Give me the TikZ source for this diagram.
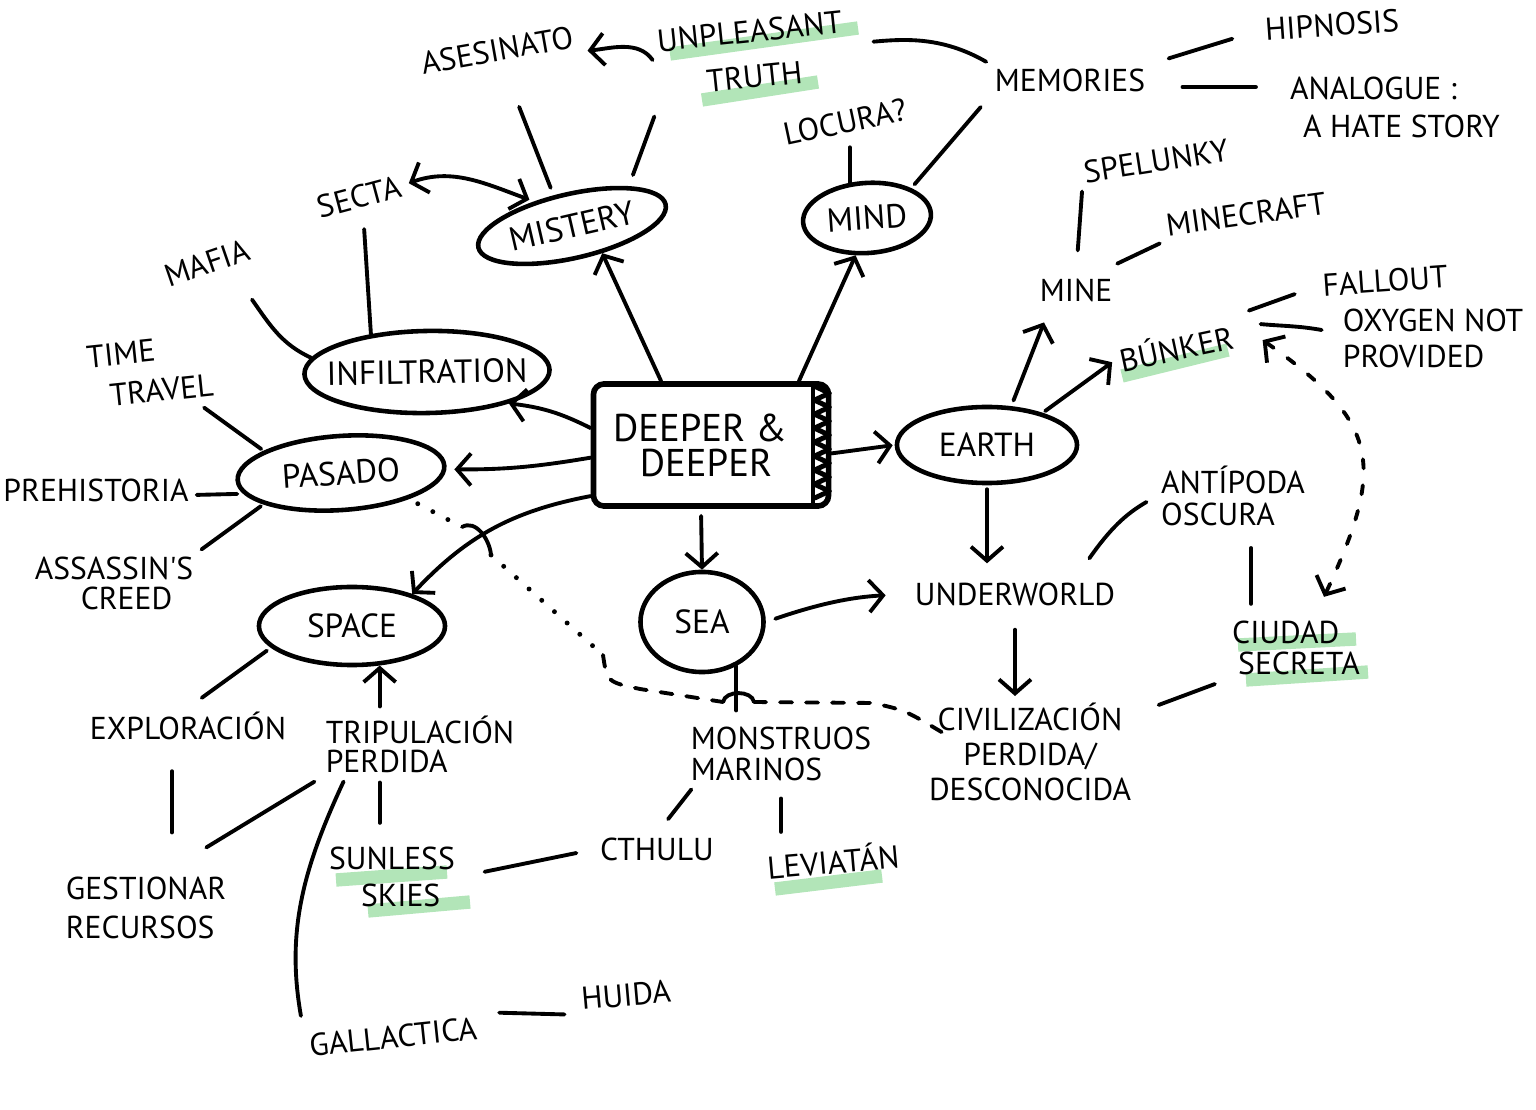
\documentclass[tikz,border=0pt]{standalone}
\usepackage{fontspec}
\newfontfamily\hand{PT Sans}
\usetikzlibrary{arrows.meta,shapes.geometric,calc}
\definecolor{hl}{RGB}{178,229,184}
\newcommand\zb[1]{\makebox[0pt]{#1}}
\begin{document}
\begin{tikzpicture}[x=0.01cm,y=0.01cm,
  lbl/.style={font=\hand\fontsize{9}{#1}\selectfont, inner sep=1pt, align=center},
  lbl/.default=11,
  oval/.style={draw, ellipse, line width=1.3pt, inner sep=0pt, font=\hand\fontsize{9.5}{11}\selectfont},
  ln/.style={line width=1.1pt, line cap=round},
  arr/.style={ln, -{Straight Barb[length=1.4mm,width=3.2mm]}},
  darr/.style={ln, {Straight Barb[length=1.4mm,width=3.2mm]}-{Straight Barb[length=1.4mm,width=3.2mm]}},
  hilite/.style={line width=3.8pt, hl},
]
\useasboundingbox (0,0) rectangle (1536,-1110);

% highlights
\draw[hilite] (670,-54) -- (858,-28);
\draw[hilite] (702,-100) -- (818,-82);
\draw[hilite] (1122,-376) -- (1228,-350);
\draw[hilite] (1238,-645) -- (1356,-639);
\draw[hilite] (1246,-680) -- (1368,-672);
\draw[hilite] (336,-880) -- (447,-872);
\draw[hilite] (368,-911) -- (470,-902);
\draw[hilite] (775,-889) -- (882,-876);

% central box
\node[draw, line width=1.6pt, rounded corners=3pt, minimum width=2.35cm, minimum height=1.22cm,
      font=\hand\fontsize{11}{10}\selectfont, align=center] (deeper) at (711,-445)
      {DEEPER \&\hspace*{0.22cm}\\DEEPER\hspace*{0.1cm}};
\draw[line width=1.2pt] ([xshift=-0.18cm]deeper.north east) -- ([xshift=-0.18cm]deeper.south east);
\foreach \k in {0,...,7} {
  \draw[line width=1.4pt, line join=round] ([shift={(-17,-5-14*\k)}]deeper.north east) -- ++(15,-7) -- ++(-15,-7);
}

% ovals
\node[oval, rotate=13, minimum width=1.92cm, minimum height=0.64cm] (mistery) at (572,-226) {\zb{MISTERY}};
\node[oval, rotate=4, minimum width=1.28cm, minimum height=0.70cm] (mind) at (867,-218) {\zb{MIND}};
\node[oval, rotate=1, minimum width=2.45cm, minimum height=0.82cm] (infil) at (427,-372) {\zb{INFILTRATION}};
\node[oval, rotate=4, minimum width=2.07cm, minimum height=0.74cm] (pasado) at (341,-473) {\zb{PASADO}};
\node[oval, minimum width=1.8cm, minimum height=0.76cm] (earth) at (987,-445) {\zb{EARTH}};
\node[oval, minimum width=1.23cm, minimum height=1.0cm] (sea) at (702,-622) {\zb{SEA}};
\node[oval, minimum width=1.86cm, minimum height=0.78cm] (space) at (352,-626) {\zb{SPACE}};

% labels
\node[lbl, rotate=10] (asesinato) at (497,-50) {ASESINATO};
\node[lbl=13, rotate=6] (unpleasant) at (752,-54) {UNPLEASANT\\TRUTH};
\node[lbl] (memories) at (1070,-80) {MEMORIES};
\node[lbl, rotate=4] (hipnosis) at (1332,-25) {HIPNOSIS};
\node[lbl=10.8, align=left] (analogue) at (1395,-107) {ANALOGUE :\\\hspace*{0.13cm}A HATE STORY};
\node[lbl, rotate=12] (locura) at (845,-122) {LOCURA?};
\node[lbl, rotate=9] (spelunky) at (1156,-161) {SPELUNKY};
\node[lbl, rotate=8] (minecraft) at (1246,-214) {MINECRAFT};
\node[lbl] (mine) at (1076,-290) {MINE};
\node[lbl, rotate=4] (fallout) at (1385,-281) {FALLOUT};
\node[lbl=10.2, align=left] (oxygen) at (1433,-338) {OXYGEN NOT\\PROVIDED};
\node[lbl, rotate=12] (bunker) at (1176,-347) {BÚNKER};
\node[lbl, rotate=15] (secta) at (359,-197) {SECTA};
\node[lbl, rotate=19] (mafia) at (207,-263) {MAFIA};
\node[lbl=11.5, align=left, rotate=6] (timetravel) at (150,-371) {TIME\\\hspace*{0.19cm}TRAVEL};
\node[lbl] (prehistoria) at (96,-490) {PREHISTORIA};
\node[lbl=8.5, align=left] (assassins) at (114,-583) {ASSASSIN'S\\\hspace*{0.46cm}CREED};
\node[lbl=9, align=left] (antipoda) at (1233,-496) {ANTÍPODA\\OSCURA};
\node[lbl] (underworld) at (1015,-594) {UNDERWORLD};
\node[lbl=8.8, align=left] (ciudad) at (1296,-648) {CIUDAD\\\hspace*{0.06cm}SECRETA};
\node[lbl=9.9] (civil) at (1030,-752) {CIVILIZACIÓN\\PERDIDA/\\DESCONOCIDA};
\node[lbl=9, align=left] (monstruos) at (781,-754) {MONSTRUOS\\MARINOS};
\node[lbl] (cthulu) at (657,-849) {CTHULU};
\node[lbl, rotate=5] (leviatan) at (833,-860) {LEVIATÁN};
\node[lbl] (exploracion) at (188,-726) {EXPLORACIÓN};
\node[lbl=8.2, align=left] (tripulacion) at (420,-744) {TRIPULACIÓN\\PERDIDA};
\node[lbl=11.3, align=left] (gestionar) at (146,-908) {GESTIONAR\\RECURSOS};
\node[lbl=10.5, align=left] (sunless) at (392,-877) {SUNLESS\\\hspace*{0.32cm}SKIES};
\node[lbl, rotate=6] (galactica) at (393,-1037) {GALLACTICA};
\node[lbl, rotate=5] (huida) at (626,-995) {HUIDA};

% arrows from the centre
\draw[arr] (deeper.128) -- (mistery.305);
\draw[arr] (deeper.36) -- (mind.249);
\draw[arr] (deeper.172) to[bend right=10] (infil.338);
\draw[arr, shorten >=0.08cm] (deeper.186) to[bend left=5] (pasado.358);
\draw[arr] (deeper.203) to[bend right=18] (space.28);
\draw[arr, shorten <=0.07cm] ([xshift=-0.1cm]deeper.south) -- (sea.north);
\draw[arr, shorten >=0.02cm] (deeper.356) -- (earth.west);

% earth branch
\draw[arr, shorten <=0.06cm, shorten >=0.18cm] (earth.58) -- ([xshift=0.15cm]mine.south west);
\draw[arr, shorten <=0.03cm, shorten >=0.04cm] (earth.30) -- (bunker.west);
\draw[arr, shorten <=0.04cm, shorten >=0.15cm] (earth.south) -- (earth.south |- underworld.north);
\draw[arr, shorten <=0.1cm, shorten >=0.25cm] (sea.east) to[bend left=8] (underworld.west);
\draw[arr, shorten <=0.2cm, shorten >=0.03cm] (underworld.south) -- (underworld.south |- civil.north);
\draw[ln, shorten <=0.24cm, shorten >=0.03cm] (mine.north) -- (spelunky.south west);
\draw[ln, shorten <=0.25cm, shorten >=0.05cm] (mine.40) -- (minecraft.south west);
\draw[ln, shorten <=0.17cm, shorten >=0.25cm] (bunker.north east) -- (fallout.west);
\draw[ln] ($(bunker.east)+(24,10)$) to[out=-5,in=170] ($(oxygen.west)+(-17,8)$);
\draw[ln, shorten >=0.12cm] ($(underworld.north east)+(-30,20)$) to[out=55,in=-150] (antipoda.west);
\draw[ln, shorten <=0.18cm, shorten >=0.13cm] ($(antipoda.south)+(18,0)$) -- ($(antipoda.south |- ciudad.north)+(18,0)$);
\draw[ln, shorten <=0.14cm, shorten >=0.25cm] (ciudad.south west) -- (civil.20);
\draw[darr, dash pattern=on 0.09cm off 0.17cm] ($(bunker.east)+(26,-6)$) to[out=-35,in=65,looseness=1.4] ($(ciudad.north east)+(-40,20)$);

% mistery / mind branch
\draw[ln, shorten <=0.08cm, shorten >=0.45cm] (mistery.108) -- (asesinato);
\draw[ln, shorten <=0.12cm, shorten >=0.15cm] (mistery.22) -- (unpleasant.south west);
\draw[arr, shorten <=0.05cm, shorten >=0.08cm] (unpleasant.west) to[out=125,in=5] (asesinato.south east);
\draw[ln, shorten <=0.25cm, shorten >=0.05cm] (unpleasant.east) to[out=5,in=150] (memories.north west);
\draw[ln, shorten <=0.15cm, shorten >=0.05cm] (memories.south west) -- (mind.30);
\draw[ln, shorten >=0.1cm] (mind.112) -- (mind.112 |- locura.south);
\draw[ln, shorten <=0.2cm, shorten >=0.3cm] (memories.north east) -- (hipnosis.west);
\draw[ln, shorten <=0.33cm, shorten >=0.3cm] ($(memories.east)+(0,-7)$) -- ($(memories.east -| analogue.west)+(0,-7)$);
\draw[darr, shorten <=0.05cm, shorten >=0.05cm] (secta.east) to[out=20,in=160] (mistery.134);

% left branch
\draw[ln, shorten <=0.17cm] (secta.south) -- (infil.145);
\draw[ln] ($(mafia.south)+(40,-22)$) to[out=-55,in=155] (infil.172);
\draw[ln, shorten >=0.03cm] ($(timetravel.south east)+(-15,-8)$) -- (pasado.160);
\draw[ln, shorten <=0.04cm, shorten >=0.06cm] ($(prehistoria.east)+(0,-5)$) -- (pasado.188);
\draw[ln, shorten <=0.05cm, shorten >=0.03cm] (assassins.north east) -- (pasado.198);

% space branch
\draw[arr, shorten <=0.05cm] (space.305 |- tripulacion.north) -- (space.305);
\draw[ln, shorten <=0.05cm, shorten >=0.17cm] (space.195) -- (exploracion.north);
\draw[ln, shorten <=0.27cm, shorten >=0.4cm] ($(exploracion.south)+(-16,0)$) -- ($(exploracion.south |- gestionar.north)+(-16,0)$);
\draw[ln, shorten <=0.06cm] ($(tripulacion.south west)+(-2,-2)$) -- ($(gestionar.north east)+(-24,25)$);
\draw[ln, shorten <=0.06cm, shorten >=0.2cm] (space.305 |- tripulacion.south) -- (space.305 |- sunless.north);
\draw[ln, shorten >=0.15cm] ($(tripulacion.south west)+(22,-5)$) to[out=-115,in=100] (galactica.north west);
\draw[ln, shorten <=0.2cm, shorten >=0.14cm] (galactica.north east) -- (huida.south west);
\draw[ln, shorten <=0.26cm, shorten >=0.2cm] (sunless.east) -- (cthulu.west);

% sea branch
\draw[ln, shorten <=0.18cm, shorten >=0.05cm] (cthulu.north) -- (monstruos.200);
\draw[ln, shorten <=0.13cm, shorten >=0.1cm] (monstruos.south) -- (monstruos.south |- leviatan.north);
\draw[ln, shorten <=0.12cm] (sea.308 |- monstruos.north) -- (sea.308);

% dotted / dashed link pasado -> civilizacion
\draw[ln, line width=1.4pt, dash pattern=on 0pt off 0.17cm, shorten <=0.1cm] (pasado.335) -- (462,-527);
\draw[ln] (462,-527) to[out=30,in=95] (491,-555);
\draw[ln, line width=1.4pt, dash pattern=on 0pt off 0.17cm] (491,-555) -- (603,-655);
\draw[ln, dash pattern=on 0.12cm off 0.14cm] (603,-655) .. controls (607,-682) .. (640,-689) -- (723,-702);
\draw[ln] (723,-702) to[out=80,in=100] (754,-702);
\draw[ln, dash pattern=on 0.12cm off 0.14cm] (754,-702) -- (872,-703) .. controls (905,-710) .. ($(civil.west)+(25,15)$);
\end{tikzpicture}
\end{document}
